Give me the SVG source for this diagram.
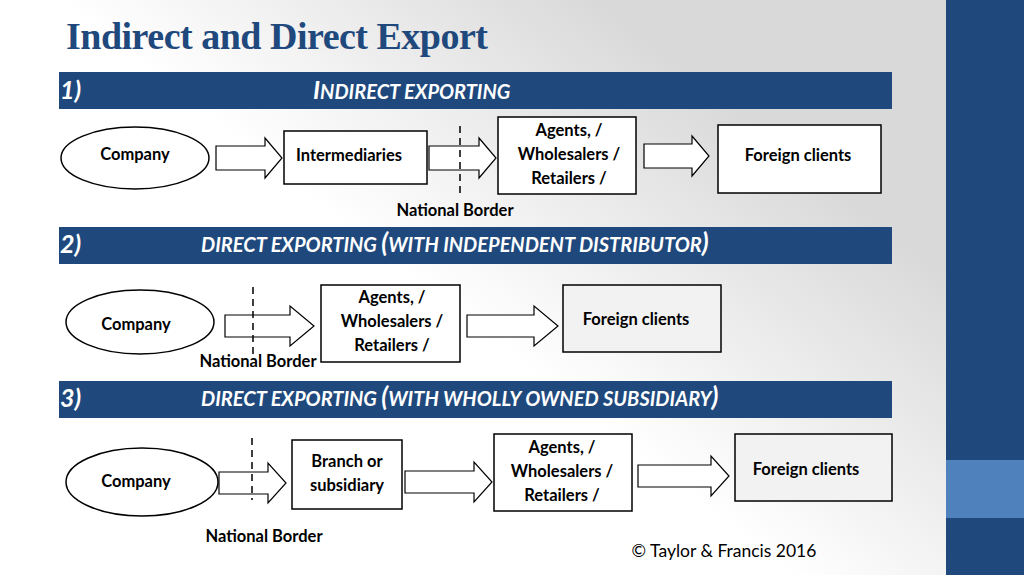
<svg xmlns="http://www.w3.org/2000/svg" width="1024" height="575" viewBox="0 0 1024 575">
<defs>
<linearGradient id="bg" x1="0.45" y1="0.55" x2="0.8" y2="0.3">
<stop offset="0" stop-color="#ffffff"/>
<stop offset="1" stop-color="#d9d9d9"/>
</linearGradient>
</defs>
<style>
.t{font-family:Lato,"Open Sans",sans-serif;font-weight:bold;font-size:16.5px;fill:#000;text-anchor:middle}
.h{font-family:Lato,"Open Sans",sans-serif;font-weight:bold;font-style:italic;fill:#fff}
.b{fill:#fff;stroke:#000;stroke-width:1.5}
.g{fill:#f2f2f2;stroke:#000;stroke-width:1.5}
.a{fill:#fff;stroke:#000;stroke-width:1.2}
.d{stroke:#000;stroke-width:1.5;stroke-dasharray:7,5}
.bar{fill:#1f497d}
</style>
<rect width="1024" height="575" fill="url(#bg)"/>
<rect x="946" y="0" width="78" height="575" fill="#1f497d"/>
<rect x="946" y="460" width="78" height="58" fill="#4f81bd"/>
<text x="66" y="49" font-family="'Liberation Serif',serif" font-weight="bold" font-size="38" fill="#1f497d" letter-spacing="-0.5">Indirect and Direct Export</text>
<g id="headers">
<rect class="bar" x="59" y="72" width="833" height="37"/>
<text class="h" x="60" y="99" font-size="25">1)</text>
<text class="h" x="313" y="99" font-size="25">I<tspan font-size="20">NDIRECT EXPORTING</tspan></text>
<rect class="bar" x="59" y="227" width="833" height="37"/>
<text class="h" x="60" y="253" font-size="25">2)</text>
<text class="h" x="201" y="252" font-size="20">DIRECT EXPORTING <tspan font-size="26">(</tspan>WITH INDEPENDENT DISTRIBUTOR<tspan font-size="26">)</tspan></text>
<rect class="bar" x="59" y="381" width="833" height="37"/>
<text class="h" x="60" y="407" font-size="25">3)</text>
<text class="h" x="201" y="406" font-size="20">DIRECT EXPORTING <tspan font-size="26">(</tspan>WITH WHOLLY OWNED SUBSIDIARY<tspan font-size="26">)</tspan></text>
</g>
<g id="connectors">
<polygon class="a" points="216,146 265,146 265,138 282,158 265,178 265,170 216,170"/>
<polygon class="a" points="429,146 479,146 479,138 496,158 479,178 479,170 429,170"/>
<polygon class="a" points="644,144 692,144 692,136 709,156 692,176 692,168 644,168"/>
<line class="d" x1="460" y1="126" x2="460" y2="193"/>
<polygon class="a" points="225,315 290,315 290,306 314,326 290,346 290,337 225,337"/>
<polygon class="a" points="467,315 534,315 534,306 558,326 534,346 534,337 467,337"/>
<line class="d" x1="253" y1="287" x2="253" y2="357"/>
<polygon class="a" points="219,472 268,472 268,463 286,483 268,503 268,494 219,494"/>
<polygon class="a" points="405,471 474,471 474,462 492,482 474,502 474,493 405,493"/>
<polygon class="a" points="638,465 711,465 711,456 729,476 711,496 711,487 638,487"/>
<line class="d" x1="252" y1="438" x2="252" y2="500"/>
</g>
<g id="n1-company"><ellipse class="b" cx="135" cy="158" rx="74" ry="31"/><text class="t" x="135" y="160">Company</text></g>
<g id="n1-inter"><rect class="b" x="284" y="131" width="143" height="53"/><text class="t" x="349" y="161">Intermediaries</text></g>
<g id="n1-agents"><rect class="b" x="498" y="117" width="138" height="77"/><text class="t" x="569" y="136">Agents, /</text><text class="t" x="569" y="160">Wholesalers /</text><text class="t" x="569" y="184">Retailers /</text></g>
<g id="n1-foreign"><rect class="b" x="718" y="125" width="163" height="68"/><text class="t" x="798" y="161">Foreign clients</text></g>
<text class="t" x="455" y="216">National Border</text>
<g id="n2-company"><ellipse class="b" cx="140" cy="322" rx="74" ry="32"/><text class="t" x="136" y="330">Company</text></g>
<g id="n2-agents"><rect class="b" x="321" y="285" width="139" height="77"/><text class="t" x="392" y="303">Agents, /</text><text class="t" x="392" y="327">Wholesalers /</text><text class="t" x="392" y="351">Retailers /</text></g>
<g id="n2-foreign"><rect class="g" x="563" y="285" width="158" height="67"/><text class="t" x="636" y="325">Foreign clients</text></g>
<text class="t" x="258" y="367">National Border</text>
<g id="n3-company"><ellipse class="b" cx="142" cy="482" rx="76" ry="34"/><text class="t" x="136" y="487">Company</text></g>
<g id="n3-branch"><rect class="b" x="292" y="440" width="110" height="69"/><text class="t" x="347" y="467">Branch or</text><text class="t" x="347" y="491">subsidiary</text></g>
<g id="n3-agents"><rect class="b" x="494" y="434" width="138" height="77"/><text class="t" x="562" y="453">Agents, /</text><text class="t" x="562" y="477">Wholesalers /</text><text class="t" x="562" y="501">Retailers /</text></g>
<g id="n3-foreign"><rect class="g" x="735" y="434" width="157" height="67"/><text class="t" x="806" y="475">Foreign clients</text></g>
<text class="t" x="264" y="542">National Border</text>
<text x="724" y="557" font-family="Lato,'Open Sans',sans-serif" font-size="17.5" fill="#000" text-anchor="middle">© Taylor &amp; Francis 2016</text>
</svg>
